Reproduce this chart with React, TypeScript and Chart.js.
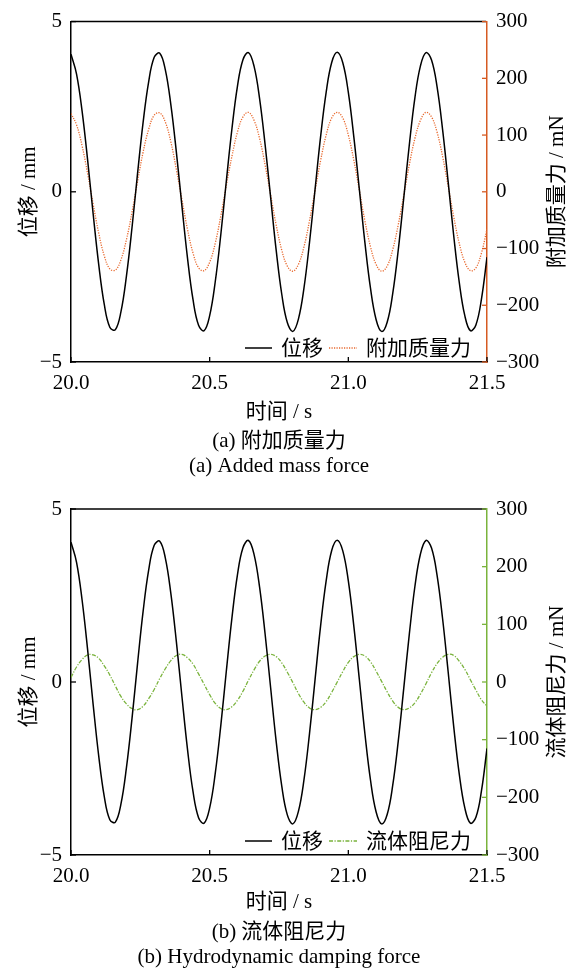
import React, { useEffect, useRef } from "react";
import { Chart, registerables } from "chart.js";

Chart.register(...registerables);

const TIME = [
  20.0, 20.02, 20.04, 20.06, 20.08, 20.1, 20.12, 20.14, 20.16, 20.18,
  20.2, 20.22, 20.24, 20.26, 20.28, 20.3, 20.32, 20.34, 20.36, 20.38,
  20.4, 20.42, 20.44, 20.46, 20.48, 20.5, 20.52, 20.54, 20.56, 20.58,
  20.6, 20.62, 20.64, 20.66, 20.68, 20.7, 20.72, 20.74, 20.76, 20.78,
  20.8, 20.82, 20.84, 20.86, 20.88, 20.9, 20.92, 20.94, 20.96, 20.98,
  21.0, 21.02, 21.04, 21.06, 21.08, 21.1, 21.12, 21.14, 21.16, 21.18,
  21.2, 21.22, 21.24, 21.26, 21.28, 21.3, 21.32, 21.34, 21.36, 21.38,
  21.4, 21.42, 21.44, 21.46, 21.48, 21.5,
];

const DISPLACEMENT = [
  4.04, 3.46, 2.37, 0.93, -0.66, -2.14, -3.31, -3.98, -4.05, -3.53,
  -2.47, -1.05, 0.54, 2.04, 3.23, 3.95, 4.07, 3.59, 2.56, 1.16,
  -0.42, -1.94, -3.17, -3.92, -4.08, -3.64, -2.65, -1.27, 0.31, 1.83,
  3.09, 3.88, 4.09, 3.69, 2.74, 1.38, -0.18, -1.73, -3.01, -3.84,
  -4.1, -3.74, -2.83, -1.49, 0.07, 1.62, 2.92, 3.8, 4.1, 3.79,
  2.92, 1.6, 0.05, -1.51, -2.84, -3.75, -4.1, -3.83, -2.99, -1.71,
  -0.17, 1.39, 2.76, 3.7, 4.09, 3.87, 3.08, 1.82, 0.29, -1.29,
  -2.66, -3.64, -4.08, -3.91, -3.15, -1.92,
];

const ADDED_MASS = [
  138, 118, 81, 32, -22, -73, -113, -136, -138, -120,
  -84, -36, 18, 70, 110, 135, 139, 123, 88, 39,
  -14, -66, -108, -134, -139, -124, -91, -43, 11, 62,
  105, 132, 140, 126, 94, 47, -6, -59, -103, -131,
  -140, -128, -97, -51, 2, 55, 100, 130, 140, 130,
  100, 55, 2, -52, -97, -128, -140, -131, -102, -58,
  -6, 48, 94, 126, 140, 132, 105, 62, 10, -44,
  -91, -124, -139, -134, -108, -66,
];

const DAMPING = [
  8, 26, 39, 47, 47, 41, 28, 12, -7, -25,
  -38, -46, -48, -42, -29, -13, 6, 23, 37, 46,
  48, 42, 31, 14, -4, -22, -37, -46, -48, -43,
  -32, -16, 3, 21, 36, 45, 48, 44, 33, 17,
  -1, -20, -35, -45, -48, -44, -34, -18, 0, 18,
  34, 44, 48, 45, 35, 19, 1, -17, -33, -44,
  -48, -45, -36, -21, -3, 16, 32, 43, 48, 46,
  36, 22, 4, -14, -31, -42,
];

const X_TICKS = [20.0, 20.5, 21.0, 21.5];
const LEFT_TICKS = [-5, 0, 5];
const RIGHT_TICKS = [-300, -200, -100, 0, 100, 200, 300];

const FONT = "'Liberation Serif', 'Noto Sans CJK SC', serif";
const FS = 21;
const W = 567;
const H = 484;

interface PanelProps {
  top: number;
  plotTop: number;
  plotBottom: number;
  forceLabel: string;
  forceData: number[];
  color: string;
  lineColor: string;
  dash: number[];
  rightTitle: string;
  captionCn: string;
  captionEn: string;
  capY: number[];
}

function fmt(v: number, digits: number) {
  const s = digits > 0 ? v.toFixed(digits) : String(v);
  return s.replace("-", "\u2212");
}

function Panel(p: PanelProps) {
  const ref = useRef<HTMLCanvasElement | null>(null);
  useEffect(() => {
    if (!ref.current) return;
    const decor = {
      id: "decor",
      afterDraw(chart: any) {
        const ctx = chart.ctx;
        const a = chart.chartArea;
        const ys = chart.scales.y;
        const y1 = chart.scales.y1;
        const xs = chart.scales.x;
        ctx.save();
        ctx.strokeStyle = "#000";
        ctx.lineWidth = 1.5;
        ctx.beginPath();
        ctx.moveTo(a.left, a.top);
        ctx.lineTo(a.right - 1, a.top);
        ctx.stroke();
        const tl = 5;
        ctx.lineWidth = 1.3;
        ctx.strokeStyle = "#000";
        LEFT_TICKS.forEach((v) => {
          const y = ys.getPixelForValue(v);
          ctx.beginPath();
          ctx.moveTo(a.left, y);
          ctx.lineTo(a.left + tl, y);
          ctx.stroke();
        });
        X_TICKS.forEach((v) => {
          const x = xs.getPixelForValue(v);
          ctx.beginPath();
          ctx.moveTo(x, a.bottom);
          ctx.lineTo(x, a.bottom - tl);
          ctx.stroke();
        });
        ctx.strokeStyle = p.color;
        RIGHT_TICKS.forEach((v) => {
          const y = y1.getPixelForValue(v);
          ctx.beginPath();
          ctx.moveTo(a.right - tl, y);
          ctx.lineTo(a.right, y);
          ctx.stroke();
        });
        const ly = a.bottom - 14;
        ctx.lineWidth = 1.5;
        ctx.strokeStyle = "#000";
        ctx.setLineDash([]);
        ctx.beginPath();
        ctx.moveTo(a.right - 242, ly);
        ctx.lineTo(a.right - 215, ly);
        ctx.stroke();
        ctx.strokeStyle = p.lineColor;
        ctx.lineWidth = 1.3;
        ctx.setLineDash(p.dash);
        ctx.beginPath();
        ctx.moveTo(a.right - 158, ly);
        ctx.lineTo(a.right - 130, ly);
        ctx.stroke();
        ctx.setLineDash([]);
        ctx.fillStyle = "#000";
        ctx.font = `${FS}px ${FONT}`;
        ctx.textBaseline = "middle";
        ctx.textAlign = "left";
        ctx.fillText("位移", a.right - 206, ly + 1);
        ctx.fillText(p.forceLabel, a.right - 121, ly + 1);
        const cx = (a.left + a.right) / 2;
        const cy = (a.top + a.bottom) / 2;
        ctx.textAlign = "center";
        ctx.save();
        ctx.translate(29, cy);
        ctx.rotate(-Math.PI / 2);
        ctx.fillText("位移 / mm", 0, 0);
        ctx.restore();
        ctx.save();
        ctx.translate(557, cy);
        ctx.rotate(-Math.PI / 2);
        ctx.fillText(p.rightTitle, 0, 0);
        ctx.restore();
        ctx.fillText("时间 / s", cx, p.capY[0]);
        ctx.fillText(p.captionCn, cx, p.capY[1]);
        ctx.fillText(p.captionEn, cx, p.capY[2]);
        ctx.restore();
      },
    };
    const chart = new Chart(ref.current, {
      type: "line",
      data: {
        datasets: [
          {
            label: "位移",
            data: TIME.map((t, i) => ({ x: t, y: DISPLACEMENT[i] })),
            borderColor: "#000",
            borderWidth: 1.5,
            pointRadius: 0,
            tension: 0.4,
            yAxisID: "y",
          },
          {
            label: p.forceLabel,
            data: TIME.map((t, i) => ({ x: t, y: p.forceData[i] })),
            borderColor: p.lineColor,
            borderWidth: 1.3,
            borderDash: p.dash,
            pointRadius: 0,
            tension: 0.4,
            yAxisID: "y1",
          },
        ],
      },
      options: {
        animation: false,
        responsive: false,
        events: [],
        layout: { padding: { top: p.plotTop, left: 0, right: 0, bottom: 0 } },
        plugins: { legend: { display: false }, tooltip: { enabled: false } },
        scales: {
          x: {
            type: "linear",
            min: 20,
            max: 21.5,
            afterBuildTicks: (s: any) => {
              s.ticks = X_TICKS.map((v) => ({ value: v }));
            },
            afterFit: (s: any) => {
              s.height = H - p.plotBottom;
            },
            grid: { display: true, drawOnChartArea: false, drawTicks: false },
            border: { display: true, color: "#000", width: 1.5 },
            ticks: {
              padding: 9,
              color: "#000",
              maxRotation: 0,
              autoSkip: false,
              font: { family: FONT, size: FS },
              callback: (v: any) => fmt(Number(v), 1),
            },
          },
          y: {
            type: "linear",
            position: "left",
            min: -5,
            max: 5,
            afterBuildTicks: (s: any) => {
              s.ticks = LEFT_TICKS.map((v) => ({ value: v }));
            },
            afterFit: (s: any) => {
              s.width = 71;
            },
            grid: { display: true, drawOnChartArea: false, drawTicks: false },
            border: { display: true, color: "#000", width: 1.5 },
            ticks: {
              padding: 9,
              color: "#000",
              font: { family: FONT, size: FS },
              callback: (v: any) => fmt(Number(v), 0),
            },
          },
          y1: {
            type: "linear",
            position: "right",
            min: -300,
            max: 300,
            afterBuildTicks: (s: any) => {
              s.ticks = RIGHT_TICKS.map((v) => ({ value: v }));
            },
            afterFit: (s: any) => {
              s.width = 80;
            },
            grid: { display: true, drawOnChartArea: false, drawTicks: false },
            border: { display: true, color: p.color, width: 1.5 },
            ticks: {
              padding: 9,
              color: "#000",
              font: { family: FONT, size: FS },
              callback: (v: any) => fmt(Number(v), 0),
            },
          },
        },
      },
      plugins: [decor],
    } as any);
    return () => chart.destroy();
  }, []);
  return (
    <canvas
      ref={ref}
      width={W}
      height={H}
      style={{ position: "absolute", left: 0, top: p.top, width: W, height: H }}
    />
  );
}

export default function App() {
  return (
    <div style={{ position: "absolute", left: 0, top: 0, width: W, height: 968, background: "#fff" }}>
      <Panel
        top={0}
        plotTop={16}
        plotBottom={362}
        forceLabel="附加质量力"
        forceData={ADDED_MASS}
        color="#d65a22"
        lineColor="#e8692e"
        dash={[1.2, 1.3]}
        rightTitle="附加质量力 / mN"
        captionCn="(a) 附加质量力"
        captionEn="(a) Added mass force"
        capY={[412, 441, 466]}
      />
      <Panel
        top={484}
        plotTop={25}
        plotBottom={371}
        forceLabel="流体阻尼力"
        forceData={DAMPING}
        color="#7ab33c"
        lineColor="#7ab33c"
        dash={[4, 1.5, 1.2, 1.5]}
        rightTitle="流体阻尼力 / mN"
        captionCn="(b) 流体阻尼力"
        captionEn="(b) Hydrodynamic damping force"
        capY={[418, 448, 473]}
      />
    </div>
  );
}
